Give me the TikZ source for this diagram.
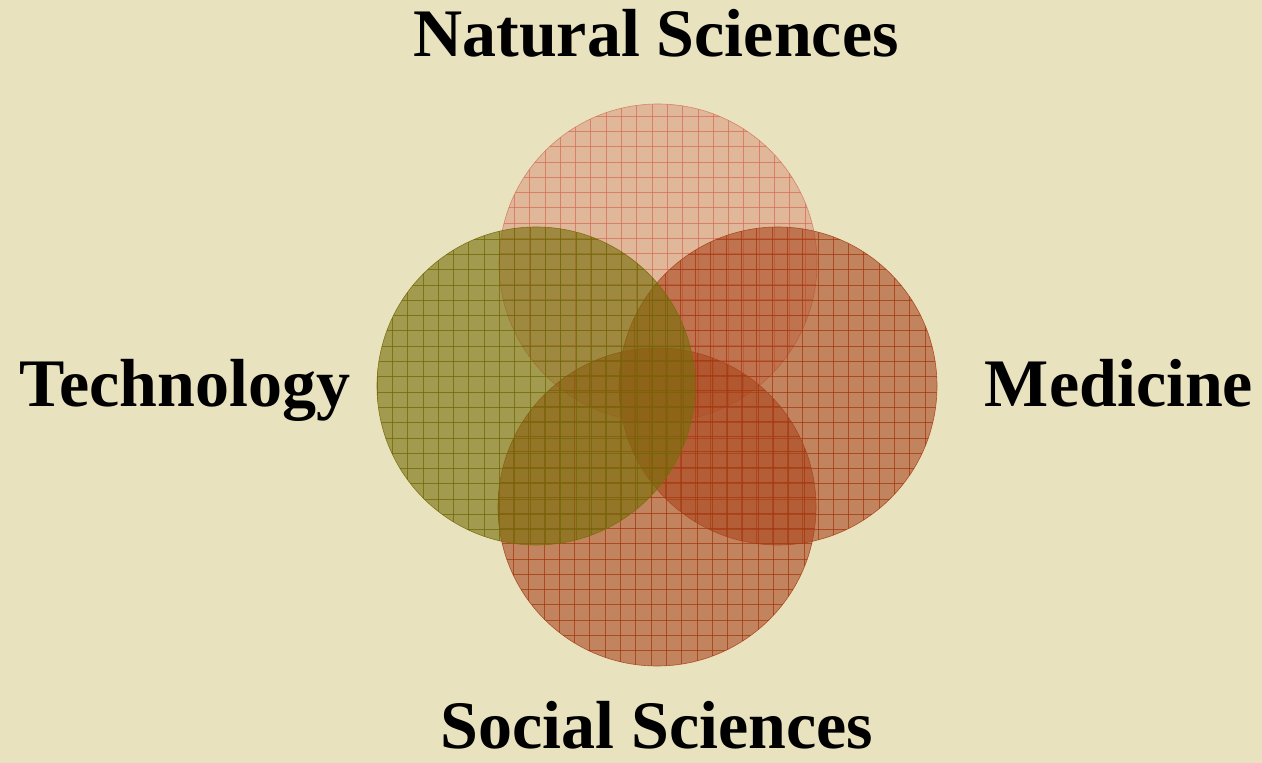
\documentclass[tikz,border=0pt]{standalone}
\usepackage{fontspec}
\setmainfont{Liberation Serif}
\definecolor{bgc}{RGB}{232,226,190}
\definecolor{orangec}{RGB}{170,70,30}
\definecolor{orangegrid}{RGB}{165,55,15}
\definecolor{pinkc}{RGB}{215,125,100}
\definecolor{pinkgrid}{RGB}{215,110,90}
\definecolor{greenc}{RGB}{120,110,10}
\definecolor{greengrid}{RGB}{110,105,5}
\tikzset{
  label/.style={font=\fontsize{68}{80}\selectfont\bfseries, text=black, anchor=base, inner sep=0pt},
  disc/.style={circle, minimum size=318pt, inner sep=0pt, outer sep=0pt},
}
\newcommand{\griddisc}[6]{%
  % #1 name, #2 x, #3 y, #4 fill colour, #5 fill opacity, #6 grid colour
  \node[disc, fill=#4, fill opacity=#5, draw=#4, draw opacity=0.9, line width=0.6pt] (#1) at (#2,#3) {};
  \begin{scope}
    \clip (#2,#3) circle (159);
    \foreach \k in {0,...,21} {
      \draw[#6, line width=0.7pt, draw opacity=0.75]
        ({#2-159+\k*15.3},{#3-160}) -- ({#2-159+\k*15.3},{#3+160});
      \draw[#6, line width=0.7pt, draw opacity=0.75]
        ({#2-160},{#3-159+\k*15.3}) -- ({#2+160},{#3-159+\k*15.3});
    }
  \end{scope}
}
\begin{document}
\begin{tikzpicture}[x=1pt,y=1pt]
\useasboundingbox (0,0) rectangle (1262,763);
\fill[bgc] (0,0) rectangle (1262,763);
\griddisc{nat}{658}{500}{pinkc}{0.42}{pinkgrid}
\griddisc{med}{778}{377}{orangec}{0.6}{orangegrid}
\griddisc{soc}{657}{256}{orangec}{0.6}{orangegrid}
\griddisc{tec}{536}{377}{greenc}{0.62}{greengrid}
\node[label] (tnat) at (656,706) {Natural Sciences};
\node[label] (ttec) at (185,356) {Technology};
\node[label] (tmed) at (1119,356) {Medicine};
\node[label] (tsoc) at (657,14) {Social Sciences};
\end{tikzpicture}
\end{document}
